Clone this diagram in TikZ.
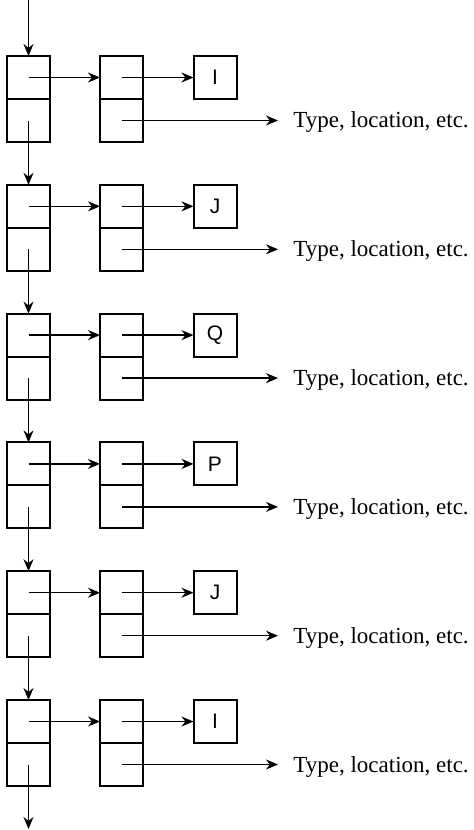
\documentclass[tikz,border=0pt]{standalone}
\usepackage{fontspec}
\setmainfont{Liberation Serif}
\newfontfamily\boxfont{Liberation Sans}
\usetikzlibrary{arrows.meta}
\begin{document}
\begin{tikzpicture}[x=0.5pt,y=-0.5pt,
  cell/.style={draw,line width=1pt,minimum width=21.5pt,minimum height=21.5pt,inner sep=0pt,outer sep=0pt},
  conn/.style={line width=0.65pt,-{Stealth[length=6pt,width=5pt]}},
  lbl/.style={font=\fontsize{11.5}{13}\selectfont,anchor=west,inner xsep=7.5pt,inner ysep=0pt,yshift=-1pt},
  letter/.style={font=\boxfont\fontsize{10.5}{12}\selectfont}]
\useasboundingbox (0,0) rectangle (473,830);
\foreach \i/\t in {0/I,1/J,2/Q,3/P,4/J,5/I} {
  \pgfmathsetmacro{\T}{56+\i*128.8}
  \node[cell] (La\i) at (28.5,{\T+21.5}) {};
  \node[cell] (Lb\i) at (28.5,{\T+64.5}) {};
  \node[cell] (Ma\i) at (121.5,{\T+21.5}) {};
  \node[cell] (Mb\i) at (121.5,{\T+64.5}) {};
  \node[cell,letter] (S\i) at (215,{\T+21.5}) {\t};
  \node[lbl] (txt\i) at (278,{\T+64.5}) {Type, location, etc.};
  \draw[conn] (La\i.center) -- (Ma\i.west);
  \draw[conn] (Ma\i.center) -- (S\i.west);
  \draw[conn] (Mb\i.center) -- (Mb\i.center -| txt\i.west);
}
\foreach \i [evaluate=\i as \j using int(\i+1)] in {0,...,4} {
  \draw[conn] (Lb\i.center) -- (La\j.north);
}
\coordinate (topstart) at (28.5,0);
\coordinate (botend) at (28.5,829);
\draw[conn] (topstart) -- (La0.north);
\draw[conn] (Lb5.center) -- (botend);
\end{tikzpicture}
\end{document}
